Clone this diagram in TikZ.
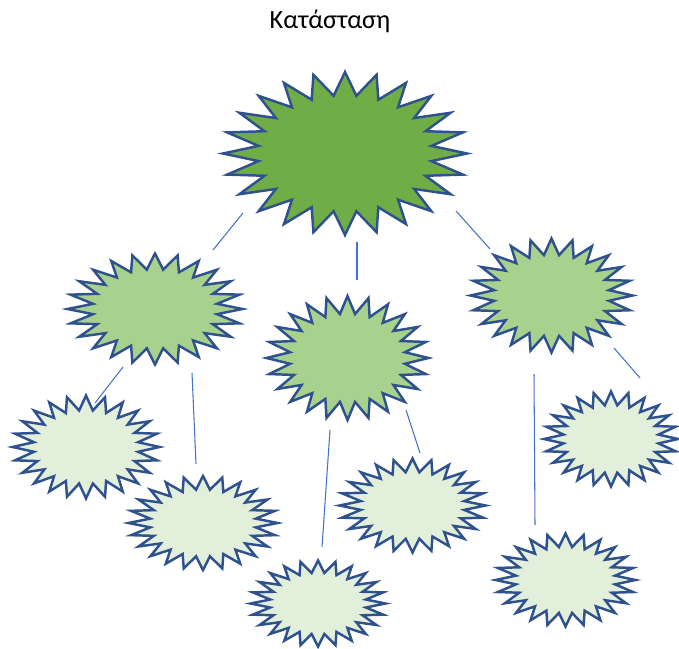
\documentclass[tikz,border=0pt]{standalone}
\usepackage{fontspec}
\setmainfont{Carlito}
\usetikzlibrary{shapes.geometric,calc}
\definecolor{edge}{HTML}{2F528F}
\definecolor{wire}{HTML}{4472C4}
\definecolor{dark}{HTML}{70AD47}
\definecolor{mid}{HTML}{A9D18E}
\definecolor{soft}{HTML}{E2EFDA}
\tikzset{burst/.style 2 args={star,star points=24,star point ratio=1.4,draw=edge,line width=2.1pt,line join=miter,inner sep=0pt,minimum size=#2*0.06cm,xscale=#1/#2,transform shape},link/.style={draw=wire,line width=0.9pt}}

\begin{document}
\begin{tikzpicture}[x=0.03cm,y=-0.03cm]
\useasboundingbox (0,0) rectangle (679,648);
\node[font=\fontsize{22.5}{27}\selectfont] (t) at (330,21) {Κατάσταση};
\node[burst={122}{81.5},fill=dark] (k) at (345,153.5) {};
\node[burst={87.5}{55.5},fill=mid] (a) at (155,309) {};
\node[burst={81}{62},fill=mid] (b) at (347.5,358) {};
\node[burst={81}{57},fill=mid] (c) at (551.5,295.5) {};
\node[burst={73.5}{51.5},fill=soft] (a1) at (86,447) {};
\node[burst={74.5}{47},fill=soft] (a2) at (203,523) {};
\node[burst={67.5}{43},fill=soft] (b1) at (318,603.5) {};
\node[burst={73}{47},fill=soft] (b2) at (412.5,505.5) {};
\node[burst={70}{46.5},fill=soft] (c1) at (565.5,580) {};
\node[burst={67}{47.5},fill=soft] (c2) at (611,439) {};
\draw[link] ($(k)+(-102,59.5)$)--($(a)+(58,-59)$);\draw[link] ($(k)+(12,88.5)$)--($(b)+(9.5,-78)$);\draw[link] ($(k)+(111,57.5)$)--($(c)+(-61.5,-46.5)$);
\draw[link] ($(a)+(-32,58)$)--($(a1)+(9,-44)$);\draw[link] ($(a)+(37,64)$)--($(a2)+(-7,-59)$);
\draw[link] ($(b)+(-17.5,72)$)--($(b1)+(4,-56.5)$);\draw[link] ($(b)+(58.5,52)$)--($(b2)+(7.5,-52.5)$);
\draw[link] ($(c)+(-17.5,78.5)$)--($(c1)+(-30.5,-55)$);\draw[link] ($(c)+(62.5,52.5)$)--($(c2)+(29,-61)$);
\end{tikzpicture}
\end{document}
